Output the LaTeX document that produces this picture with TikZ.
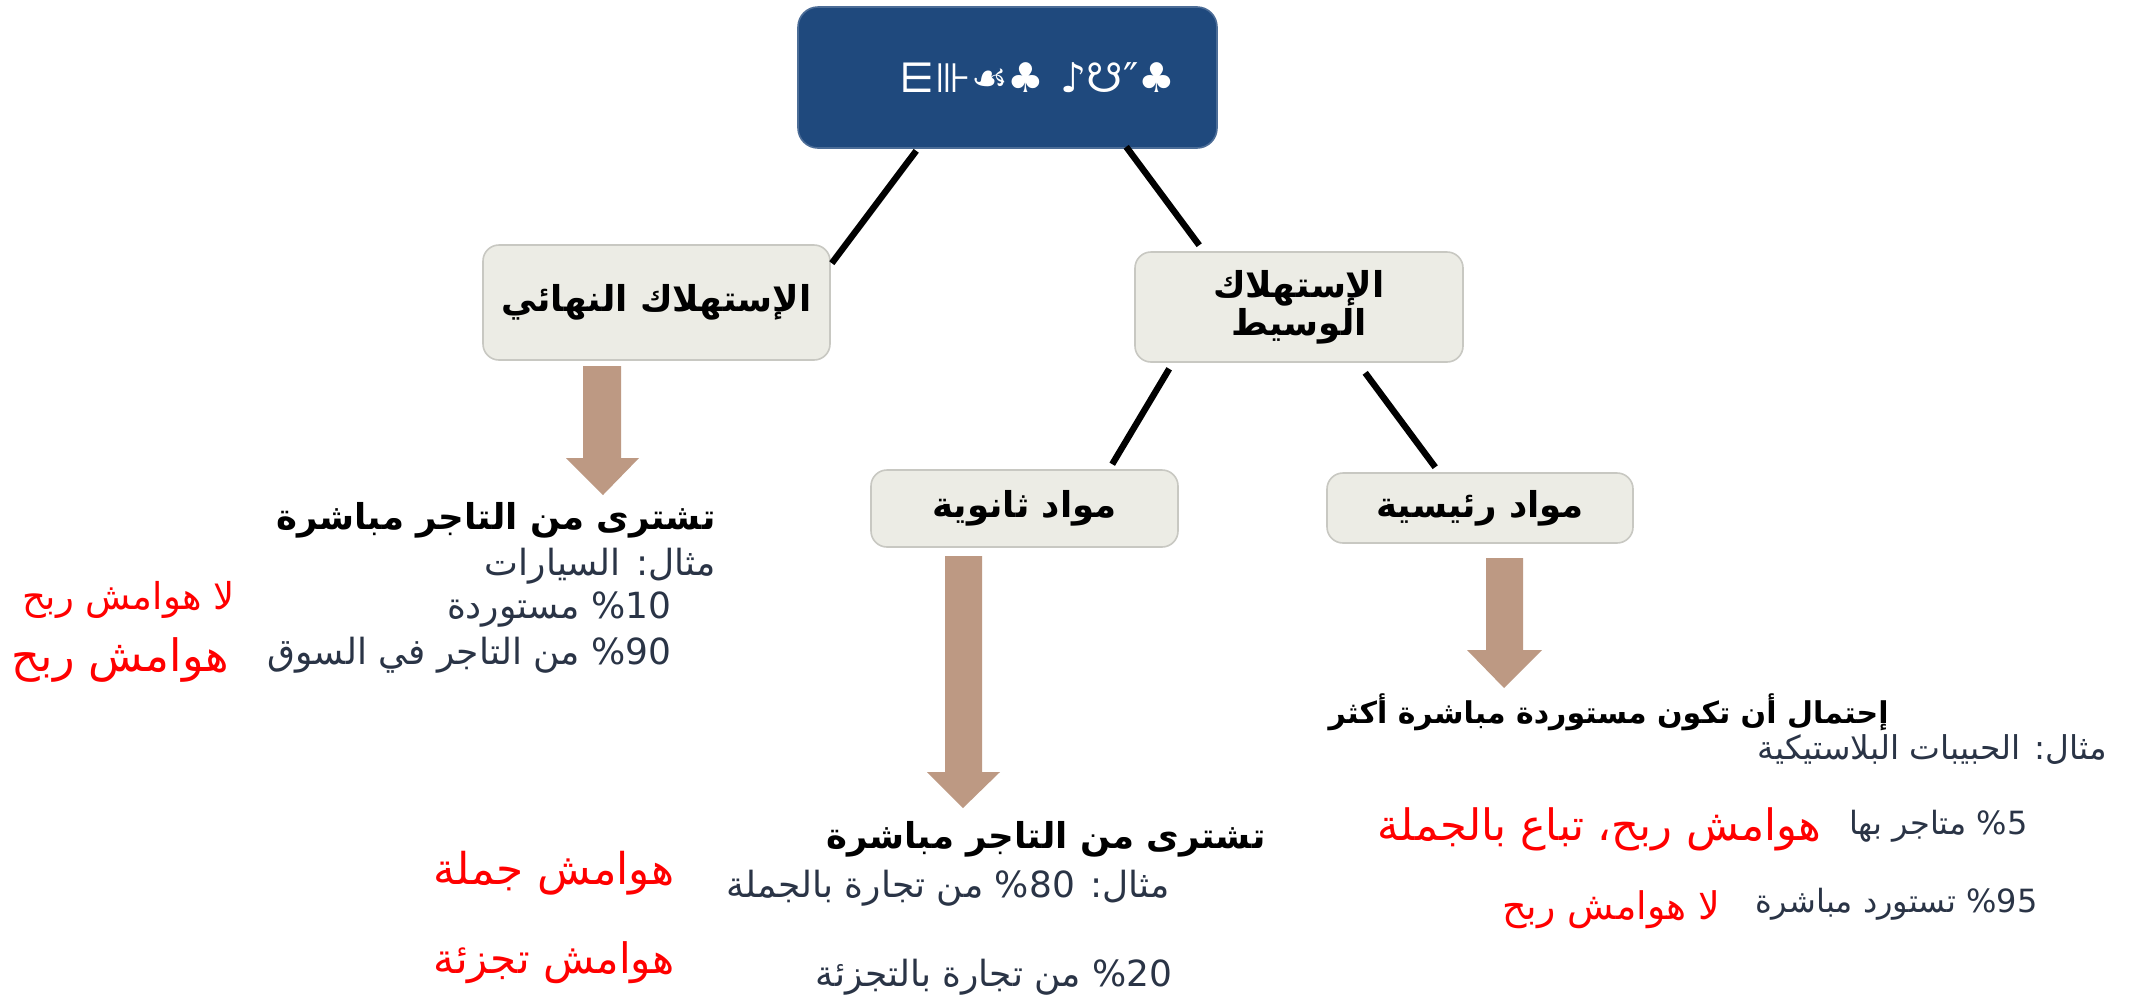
\documentclass[tikz,border=0pt]{standalone}
\usepackage{fontspec}
\usetikzlibrary{calc}
\TeXXeTstate=1
\newfontfamily\arabicfont[Script=Arabic]{DejaVu Sans}
\newfontfamily\symfont{DejaVu Sans}
\definecolor{boxfill}{RGB}{236,236,229}
\definecolor{boxline}{RGB}{200,200,194}
\definecolor{topblue}{RGB}{31,73,125}
\definecolor{arrowtan}{RGB}{189,153,131}
\definecolor{txtdark}{RGB}{42,52,70}
\definecolor{txtred}{RGB}{255,0,0}
\tikzset{
  lightbox/.style={draw=boxline, line width=0.8pt, fill=boxfill, rounded corners=8pt,
    inner sep=0pt, align=center, font=\arabicfont\bfseries\fontsize{17.8}{16}\selectfont},
  bluebox/.style={draw=topblue!80!white, line width=0.8pt, fill=topblue, rounded corners=10pt,
    inner sep=0pt, text=white, font=\symfont\fontsize{20.5}{24}\selectfont},
  link/.style={line width=3.2pt, black},
  blockarrow/.style={fill=arrowtan, draw=none},
  boldtxt/.style={anchor=east, inner sep=0pt, text=black, font=\arabicfont\bfseries\fontsize{17.8}{20}\selectfont},
  bodytxt/.style={anchor=east, inner sep=0pt, text=txtdark, font=\arabicfont\fontsize{18}{21}\selectfont},
  smalltxt/.style={anchor=east, inner sep=0pt, text=txtdark, font=\arabicfont\fontsize{16}{19}\selectfont},
  redtxt/.style={anchor=east, inner sep=0pt, text=txtred, font=\arabicfont\fontsize{19}{22}\selectfont},
}
\begin{document}
\begin{tikzpicture}[x=0.5pt,y=-0.5pt]
\useasboundingbox (0,0) rectangle (2139,997);
\fill[white] (0,0) rectangle (2139,997);

% boxes
\node[bluebox, minimum width=209.5pt, minimum height=70.5pt] (top) at (1007.5,77.5)
  {\hspace*{30pt}⋿⊪☙♣\hspace{8pt}♪☋″♣};
\node[lightbox, minimum width=173.5pt, minimum height=57.5pt] (final) at (656.5,302.5)
  {\beginR الإستهلاك النهائي\endR};
\node[lightbox, minimum width=164pt, minimum height=55pt] (inter) at (1299,307)
  {\beginR الإستهلاك\endR\\\beginR الوسيط\endR};
\node[lightbox, minimum width=153.5pt, minimum height=38.5pt] (second) at (1024.5,508.5)
  {\beginR مواد ثانوية\endR};
\node[lightbox, minimum width=153pt, minimum height=35pt] (mainm) at (1480,508)
  {\beginR مواد رئيسية\endR};

% connectors
\draw[link] ($(top.south west)+(119,2)$) -- ($(final.north east)+(1,19)$);
\draw[link] ($(top.south west)+(329,-2)$) -- ($(inter.north west)+(65,-6)$);
\draw[link] ($(inter.south west)+(35,6)$) -- ($(second.north west)+(242,-5)$);
\draw[link] ($(inter.south west)+(231,10)$) -- ($(mainm.north west)+(109,-5)$);

% block arrows
\fill[blockarrow] (583,366) -- (621,366) -- (621,458) -- (639,458) -- (603,495) -- (566,458) -- (583,458) -- cycle;
\fill[blockarrow] (945,556) -- (982,556) -- (982,772) -- (1000,772) -- (963,808) -- (927,772) -- (945,772) -- cycle;
\fill[blockarrow] (1486,558) -- (1523,558) -- (1523,650) -- (1542,650) -- (1504,688) -- (1467,650) -- (1486,650) -- cycle;

% left block
\node[boldtxt] (t1) at (716,520) {\beginR تشترى من التاجر مباشرة\endR};
\node[bodytxt] (t2) at (716,566) {\beginR مثال: السيارات\endR};
\node[bodytxt] (t3) at (672,610) {\beginR\beginL\%10\endL{} مستوردة\endR};
\node[bodytxt] (t4) at (672,655) {\beginR\beginL\%90\endL{} من التاجر في السوق\endR};
\node[redtxt, font=\arabicfont\fontsize{18.5}{21}\selectfont] (r1) at (235,600) {\beginR لا هوامش ربح\endR};
\node[redtxt, font=\arabicfont\fontsize{22.3}{25}\selectfont] (r2) at (229,660) {\beginR هوامش ربح\endR};

% middle block
\node[boldtxt] (m1) at (1266,839) {\beginR تشترى من التاجر مباشرة\endR};
\node[bodytxt] (m2) at (1170,888) {\beginR مثال: \beginL\%80\endL{} من تجارة بالجملة\endR};
\node[bodytxt] (m3) at (1173,977) {\beginR\beginL\%20\endL{} من تجارة بالتجزئة\endR};
\node[redtxt, font=\arabicfont\fontsize{21.9}{25}\selectfont] (r3) at (675,873) {\beginR هوامش جملة\endR};
\node[redtxt, font=\arabicfont\fontsize{21}{24}\selectfont] (r4) at (675,963) {\beginR هوامش تجزئة\endR};

% right block
\node[boldtxt, font=\arabicfont\bfseries\fontsize{15}{18}\selectfont] (k1) at (1889,712) {\beginR إحتمال أن تكون مستوردة مباشرة أكثر\endR};
\node[smalltxt, font=\arabicfont\fontsize{16.4}{19}\selectfont] (k2) at (2107,750) {\beginR مثال: الحبيبات البلاستيكية\endR};
\node[smalltxt] (k3) at (2028,826) {\beginR\beginL\%5\endL{} متاجر بها\endR};
\node[redtxt, font=\arabicfont\fontsize{21.6}{25}\selectfont] (r5) at (1822,829) {\beginR هوامش ربح، تباع بالجملة\endR};
\node[smalltxt] (k4) at (2038,904) {\beginR\beginL\%95\endL{} تستورد مباشرة\endR};
\node[redtxt] (r6) at (1721,910) {\beginR لا هوامش ربح\endR};
\end{tikzpicture}
\end{document}
